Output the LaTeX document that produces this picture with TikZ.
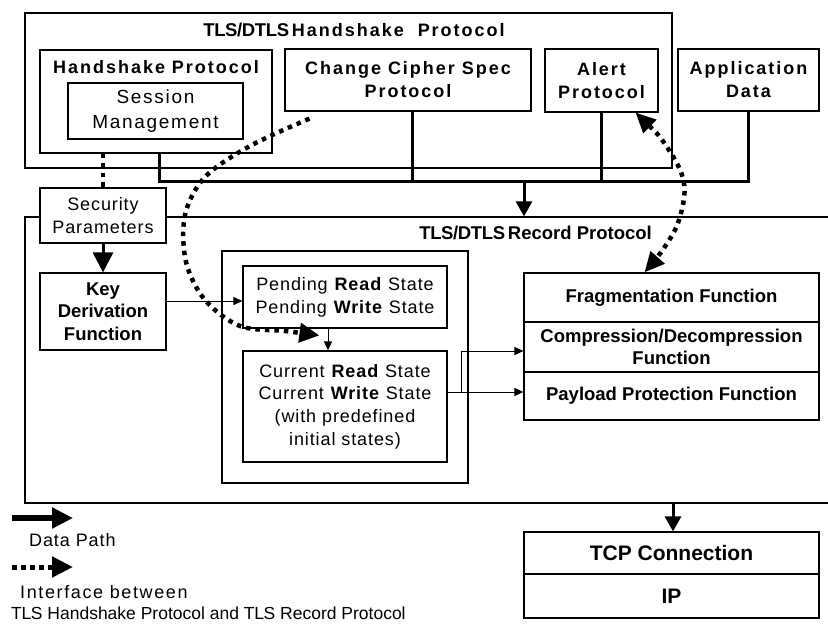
\documentclass[tikz,border=0pt]{standalone}
\usepackage{fontspec}
\setmainfont{Liberation Sans}
\newfontfamily\wideff[LetterSpace=11]{Liberation Sans}
\newfontfamily\midff[LetterSpace=5]{Liberation Sans}
\newfontfamily\sessff[LetterSpace=9]{Liberation Sans}
\newfontfamily\tightff[LetterSpace=-2]{Liberation Sans}
\usetikzlibrary{arrows.meta,calc}
\begin{document}
\begin{tikzpicture}[x=1pt,y=-1pt,
  bx/.style={draw, line width=1.2pt, fill=white, inner sep=0pt, align=center},
  sz/.style 2 args={minimum width=#1pt, minimum height=#2pt},
  bigb/.style={font=\wideff\bfseries\fontsize{18}{23}\selectfont},
  plainb/.style={font=\bfseries\fontsize{18.5}{22.5}\selectfont},
  tcpb/.style={font=\bfseries\fontsize{21}{24}\selectfont},
  reg/.style={font=\midff\fontsize{18}{22.7}\selectfont},
  sess/.style={font=\sessff\fontsize{19}{25}\selectfont},
  data/.style={line width=3pt},
  thinarr/.style={line width=1pt, -{Triangle[length=9pt,width=8pt]}},
  iface/.style={line width=4.5pt, dash pattern=on 4.5pt off 5pt},
  lbl/.style={inner sep=0pt, align=center}
]
\clip (0,0) rectangle (828,624);
\fill[white] (0,0) rectangle (828,624);

% outer containers
\node[bx, sz={647}{155}] (hs) at (348.5,90.5) {};
\node[bx, sz={825}{286}] (rec) at (437.5,360) {};

% handshake layer
\node[lbl, anchor=center] (hst) at (354,30) {{\tightff\bfseries\fontsize{18.5}{22}\selectfont TLS/DTLS} {\wideff\bfseries\fontsize{18}{22}\selectfont Handshake\ \ Protocol}};
\node[bx, sz={232}{103}] (hp) at (156,101.5) {};
\node[lbl, bigb] (hpl) at (156,67) {Handshake Protocol};
\node[bx, sz={175}{56}, sess] (sm) at (155.5,111) {Session\\Management};
\node[bx, sz={246}{62}, bigb] (ccs) at (408,80) {Change Cipher Spec\\Protocol};
\node[bx, sz={113}{63}, bigb] (alert) at (601.5,80.5) {Alert\\Protocol};
\node[bx, sz={141}{62}, bigb] (app) at (748.5,80) {Application\\Data};

% data bus
\coordinate (busL) at (159,181);
\coordinate (ccsx) at (412,181);
\coordinate (busM) at (524,181);
\draw[data] (hp.south -| busL) -- (busL) -- (busL -| app.south) -- (app.south);
\draw[data] (ccs.south -| ccsx) -- (ccsx);
\draw[data] (alert.south) -- (alert.south |- busL);
\draw[data, -{Triangle[length=15pt,width=16pt]}] (busM) -- (busM |- rec.north);

% security parameters
\node[bx, sz={126}{55}, reg] (sec) at (103,215.5) {Security\\Parameters};
\draw[iface] (hp.south -| sec.north) -- (sec.north);
\node[bx, sz={126}{77}, plainb] (kdf) at (103,311.5) {Key\\Derivation\\Function};
\draw[data, -{Triangle[length=20pt,width=20pt]}] (sec.south) -- (kdf.north);

% record layer
\node[lbl, anchor=east] (rect) at (652,233) {{\tightff\bfseries\fontsize{18.5}{22}\selectfont TLS/DTLS} {\bfseries\fontsize{18.5}{22}\selectfont Record Protocol}};
\node[bx, sz={246}{232}] (st) at (345,367) {};
\node[bx, sz={204}{62}, reg] (pend) at (345,297) {Pending \textbf{Read} State\\Pending \textbf{Write} State};
\node[bx, sz={204}{111}, reg] (cur) at (345,406.5) {Current \textbf{Read} State\\Current \textbf{Write} State\\(with predefined\\initial states)};
\node[bx, sz={295}{49}, plainb] (frag) at (671.5,297.5) {Fragmentation Function};
\node[bx, sz={295}{50}, plainb] (comp) at (671.5,347) {Compression/Decompression\\Function};
\node[bx, sz={295}{48}, plainb] (pay) at (671.5,396) {Payload Protection Function};

\draw[thinarr] (kdf.east |- 0,301) -- (pend.west |- 0,301);
\draw[thinarr] (pend.south -| 328,0) -- (cur.north -| 328,0);
\coordinate (brk) at (461,392);
\draw[thinarr] (cur.east |- brk) -- (pay.west |- brk);
\draw[thinarr] (brk) -- (brk |- 0,351) -- (comp.west |- 0,351);

% TCP / IP
\node[bx, sz={295}{42}, tcpb] (tcp) at (671.5,553) {TCP Connection};
\node[bx, sz={295}{44}, tcpb] (ip) at (671.5,596) {IP};
\draw[data, -{Triangle[length=15pt,width=16pt]}] (rec.south -| 673,0) -- (tcp.north -| 673,0);

% interface curves
\coordinate (ifs) at ($(ccs.south west)+(25,7)$);
\coordinate (ife) at ($(cur.north west)+(77,-15)$);
\draw[iface, -{Triangle[length=20pt,width=19pt]}] plot[smooth, tension=0.55] coordinates {(ifs) (250,146) (205,177) (185,215) (186,262) (205,300) (240,326) (285,331) (ife)};
\coordinate (as) at ($(alert.south east)+(-23,0)$);
\coordinate (ae) at ($(frag.north)+(-27,0)$);
\draw[iface, {Triangle[length=20pt,width=18pt]}-{Triangle[length=20pt,width=18pt]}] plot[smooth, tension=0.6] coordinates {(as) (667,147) (684,183) (679,220) (664,248) (ae)};

% legend
\coordinate (dpA) at (12,518);
\coordinate (dpB) at (73,518);
\draw[line width=6pt, -{Triangle[length=21pt,width=20pt]}] (dpA) -- (dpB);
\node[lbl, anchor=west, reg] (dpl) at (29,540) {Data Path};
\coordinate (ipA) at (12,567);
\coordinate (ipB) at (73,567);
\draw[line width=5pt, dash pattern=on 5pt off 4pt, -{Triangle[length=21pt,width=20pt]}] (ipA) -- (ipB);
\node[lbl, anchor=west, font=\sessff\fontsize{18}{22}\selectfont] (ifl1) at (20,592) {Interface between};
\node[lbl, anchor=west, font=\fontsize{17.5}{22}\selectfont] (ifl2) at (11,613) {{\tightff TLS} Handshake Protocol and {\tightff TLS} Record Protocol};
\end{tikzpicture}
\end{document}
